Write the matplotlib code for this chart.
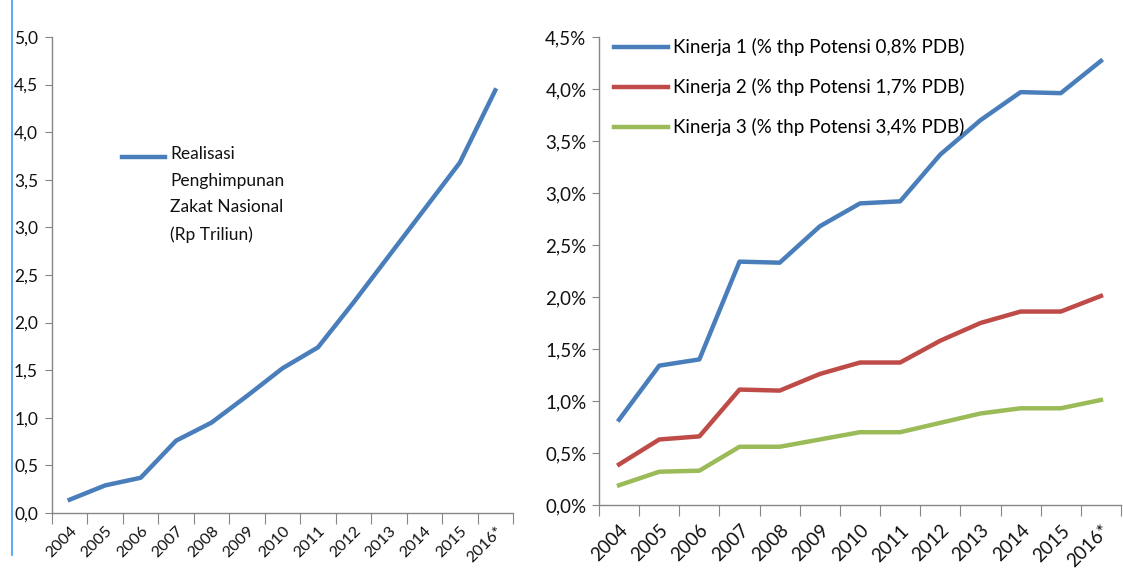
import numpy as np
import matplotlib
matplotlib.use("Agg")
import matplotlib.pyplot as plt
from matplotlib.lines import Line2D
from matplotlib.ticker import FuncFormatter, FixedLocator

plt.rcParams['font.family'] = ['Lato', 'DejaVu Sans']

# data
years = ['2004', '2005', '2006', '2007', '2008', '2009', '2010',
         '2011', '2012', '2013', '2014', '2015', '2016*']
zakat = [0.14, 0.29, 0.37, 0.76, 0.95, 1.23, 1.52, 1.74, 2.21, 2.70, 3.19, 3.68, 4.44]
kinerja1 = [0.82, 1.34, 1.40, 2.34, 2.33, 2.68, 2.90, 2.92, 3.37, 3.70, 3.97, 3.96, 4.27]
kinerja2 = [0.39, 0.63, 0.66, 1.11, 1.10, 1.26, 1.37, 1.37, 1.58, 1.75, 1.86, 1.86, 2.01]
kinerja3 = [0.19, 0.32, 0.33, 0.56, 0.56, 0.63, 0.70, 0.70, 0.79, 0.88, 0.93, 0.93, 1.01]

labels_right = ['Kinerja 1 (% thp Potensi 0,8% PDB)',
                'Kinerja 2 (% thp Potensi 1,7% PDB)',
                'Kinerja 3 (% thp Potensi 3,4% PDB)']
label_left = 'Realisasi\nPenghimpunan\nZakat Nasional\n(Rp Triliun)'

blue = '#4A7EBB'
red = '#BE4B48'
green = '#9BBB59'
grey = '#868686'
txt = '#111111'

W, H = 1123, 569
fig = plt.figure(figsize=(W / 100, H / 100), dpi=100)

def style_axes(ax, n, fs, xpad, ypad):
    for s in ['top', 'right']:
        ax.spines[s].set_visible(False)
    for s in ['left', 'bottom']:
        ax.spines[s].set_color(grey)
        ax.spines[s].set_linewidth(1.0)
    ax.set_xlim(-0.5, n - 0.5)
    ax.xaxis.set_major_locator(FixedLocator(np.arange(n + 1) - 0.5))
    ax.xaxis.set_minor_locator(FixedLocator(np.arange(n)))
    ax.set_xticklabels([], minor=False)
    ax.set_xticklabels(years, minor=True, rotation=45, ha='right',
                       rotation_mode='anchor', fontsize=fs, color=txt)
    ax.tick_params(axis='x', which='major', length=8, color=grey, direction='out')
    ax.tick_params(axis='x', which='minor', length=0, pad=xpad)
    ax.tick_params(axis='y', length=5, color=grey, direction='out',
                   labelsize=fs, labelcolor=txt, pad=ypad)

x = np.arange(len(years))

# left panel
ax1 = fig.add_axes([52 / W, 1 - 513 / H, 461 / W, 476 / H])
ax1.plot(x, zakat, color=blue, lw=3.2)
ax1.set_ylim(0, 5)
ax1.set_yticks(np.arange(0, 5.01, 0.5))
ax1.yaxis.set_major_formatter(FuncFormatter(lambda v, p: f"{v:.1f}".replace('.', ',')))
style_axes(ax1, len(years), 11.5, 8, 5)
ax1.tick_params(axis='y', labelsize=12.5)

# legend of the left panel: handle next to the first text line
ax1.add_line(Line2D([0.152, 0.245], [0.748, 0.748], transform=ax1.transAxes,
                    color=blue, lw=3.2))
ax1.text(0.256, 0.770, label_left, transform=ax1.transAxes, fontsize=12.5,
         color=txt, va='top', linespacing=1.8)

# right panel
ax2 = fig.add_axes([599 / W, 1 - 505 / H, 522 / W, 468 / H])
ax2.plot(x, kinerja1, color=blue, lw=3.2, label=labels_right[0])
ax2.plot(x, kinerja2, color=red, lw=3.2, label=labels_right[1])
ax2.plot(x, kinerja3, color=green, lw=3.2, label=labels_right[2])
ax2.set_ylim(0, 4.5)
ax2.set_yticks(np.arange(0, 4.51, 0.5))
ax2.yaxis.set_major_formatter(FuncFormatter(lambda v, p: f"{v:.1f}%".replace('.', ',')))
style_axes(ax2, len(years), 13.5, 12, 4)
ax2.legend(loc='upper left', bbox_to_anchor=(-0.004, 1.033), frameon=False,
           fontsize=13.5, handlelength=2.9, handletextpad=0.27, labelspacing=1.16)

# thin blue border line at the left edge
fig.add_artist(Line2D([12 / W, 12 / W], [1.0, 1 - 555 / H], color='#3d9bff', lw=1.2))

fig.savefig('out.png', dpi=100)
